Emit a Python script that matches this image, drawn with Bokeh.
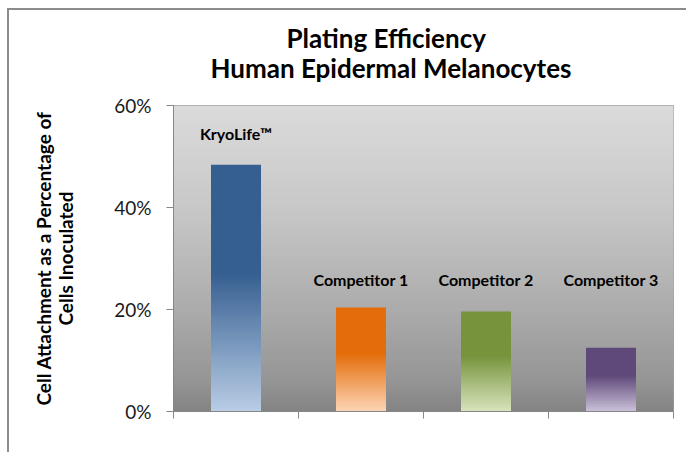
from bokeh.plotting import figure
from bokeh.models import Range1d, FixedTicker, PrintfTickFormatter, Label, Title
from bokeh.embed import file_html
from bokeh.resources import INLINE

# ---- data ----
categories = ["KryoLife\u2122", "Competitor 1", "Competitor 2", "Competitor 3"]
values = [48.4, 20.4, 19.6, 12.5]          # % of cells inoculated
y_ticks = [0, 20, 40, 60]
title_lines = ["Plating Efficiency", "Human Epidermal Melanocytes"]
y_title = "Cell Attachment as a Percentage of\nCells Inoculated"

# ---- style ----
dark_colors = ["#365F91", "#E46C0A", "#77933C", "#5F497A"]
light_colors = ["#B9CDE5", "#FCD5B5", "#D7E4BD", "#CCC1DA"]
label_y = [54.5, 25.9, 25.9, 25.9]
title_offsets = [113, 37]       # px from plot-area left edge (line 1, line 2)
title_standoffs = [-51, 43]
FONT = "Lato"
bar_width = 0.40
solid_frac = 0.44
bg_stops = [(0.0, 219), (0.33, 200), (0.57, 180), (0.67, 171), (0.9, 149), (1.0, 131)]


def hex2rgb(h):
    h = h.lstrip("#")
    return [int(h[i:i + 2], 16) for i in (0, 2, 4)]


def mix(c1, c2, t):
    a, b = hex2rgb(c1), hex2rgb(c2)
    return "#%02x%02x%02x" % tuple(int(round(a[i] + (b[i] - a[i]) * t)) for i in range(3))


def bg_gray(f):  # f: fraction from top
    for (f0, g0), (f1, g1) in zip(bg_stops[:-1], bg_stops[1:]):
        if f0 <= f <= f1:
            g = int(round(g0 + (g1 - g0) * (f - f0) / (f1 - f0)))
            return "#%02x%02x%02x" % (g, g, g)
    return "#838383"


ymax = y_ticks[-1]
n_cat = len(categories)

p = figure(width=679, height=444, output_backend="svg", toolbar_location=None,
           x_range=Range1d(0, n_cat), y_range=Range1d(0, ymax),
           min_border_left=164, min_border_right=15, min_border_top=95, min_border_bottom=43)
p.styles = {"margin-left": "7px", "margin-top": "8px",
            "border-left": "2px solid #8c8c8c", "border-top": "2px solid #8c8c8c"}
p.background_fill_color = "#c8c8c8"
p.border_fill_color = "white"
p.outline_line_color = "#a3a3a3"
p.outline_line_width = 1

# background gradient strips (each overlaps the next to avoid seams)
nbg = 120
bl, br, bb, bt, bc = [], [], [], [], []
for i in range(nbg):
    bt.append(ymax * (1 - i / nbg))
    bb.append(max(0.0, ymax * (1 - (i + 2) / nbg)))
    bl.append(0)
    br.append(n_cat)
    bc.append(bg_gray((i + 0.5) / nbg))
p.quad(left=bl, right=br, top=bt, bottom=bb, fill_color=bc, line_color=None)

# gradient bars: solid top part + overlapping strips below
ql, qr, qt, qb, qc = [], [], [], [], []
nstrip = 60
for k, v in enumerate(values):
    xc = k + 0.5
    y_split = v * (1 - solid_frac)
    ql.append(xc - bar_width / 2)
    qr.append(xc + bar_width / 2)
    qt.append(v)
    qb.append(y_split - v * 0.01)
    qc.append(dark_colors[k])
    for i in range(nstrip):
        t = (i + 0.5) / nstrip
        ql.append(xc - bar_width / 2)
        qr.append(xc + bar_width / 2)
        qt.append(y_split * (1 - i / nstrip))
        qb.append(max(0.0, y_split * (1 - (i + 2) / nstrip)))
        qc.append(mix(dark_colors[k], light_colors[k], t))
p.quad(left=ql, right=qr, top=qt, bottom=qb, fill_color=qc, line_color=None)

# category labels above bars
for k, name in enumerate(categories):
    p.add_layout(Label(x=k + 0.5, y=label_y[k], text=name, text_align="center",
                       text_baseline="middle", text_font=FONT, text_font_style="bold",
                       text_font_size="16px", text_color="black"))

# title: two lines (second line, nearest the plot, is added first)
for line, off, so in reversed(list(zip(title_lines, title_offsets, title_standoffs))):
    p.add_layout(Title(text=line, align="left", offset=off, text_font=FONT,
                       text_font_style="bold", text_font_size="26px",
                       text_color="black", standoff=so), "above")

# grid
p.xgrid.visible = False
p.ygrid.ticker = FixedTicker(ticks=y_ticks[1:-1])
p.ygrid.grid_line_color = "#878787"
p.ygrid.grid_line_width = 1

# y axis
p.yaxis.ticker = FixedTicker(ticks=y_ticks)
p.yaxis.formatter = PrintfTickFormatter(format="%d%%")
p.yaxis.axis_line_color = "#878787"
p.yaxis.major_tick_line_color = "#878787"
p.yaxis.major_tick_out = 7
p.yaxis.major_tick_in = 0
p.yaxis.minor_tick_line_color = None
p.yaxis.major_label_text_font = FONT
p.yaxis.major_label_text_font_size = "19px"
p.yaxis.major_label_text_color = "#1a1a1a"
p.yaxis.major_label_standoff = 15
p.yaxis.axis_label = y_title
p.yaxis.axis_label_text_font = FONT
p.yaxis.axis_label_text_font_style = "bold"
p.yaxis.axis_label_text_font_size = "19px"
p.yaxis.axis_label_text_line_height = 0.95
p.yaxis.axis_label_text_color = "black"
p.yaxis.axis_label_standoff = 34

# x axis: ticks at category boundaries, no labels
p.xaxis.ticker = FixedTicker(ticks=list(range(n_cat + 1)))
p.xaxis.axis_line_color = "#878787"
p.xaxis.major_tick_line_color = "#878787"
p.xaxis.major_tick_out = 7
p.xaxis.major_tick_in = 0
p.xaxis.minor_tick_line_color = None
p.xaxis.major_label_text_font_size = "0px"
p.xaxis.major_label_text_color = None

open("out.html", "w").write(file_html(p, INLINE))
